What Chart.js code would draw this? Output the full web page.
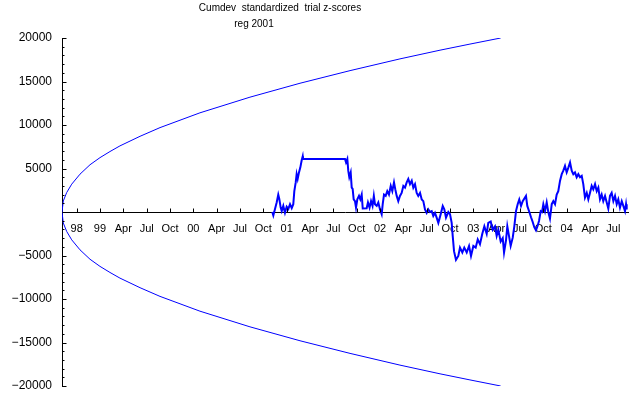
<!DOCTYPE html>
<html>
<head>
<meta charset="utf-8">
<title>Cumdev standardized trial z-scores</title>
<script src="https://cdn.jsdelivr.net/npm/chart.js@4.4.1/dist/chart.umd.min.js"></script>
<style>
  html, body { margin: 0; padding: 0; background: #fff; }
  #wrap { width: 640px; height: 395px; }
</style>
</head>
<body>
<div id="wrap"><canvas id="chart" width="640" height="395"></canvas></div>
<script>
// titles
const titleText = 'Cumdev  standardized  trial z-scores'
const subTitleText = 'reg 2001'

// x axis ticks (decimal years) and their labels
const tickYears = [1998.75, 1999.0, 1999.25, 1999.5, 1999.75, 2000.0, 2000.25, 2000.5, 2000.75,
    2001.0, 2001.25, 2001.5, 2001.75, 2002.0, 2002.25, 2002.5, 2002.75,
    2003.0, 2003.25, 2003.5, 2003.75, 2004.0, 2004.25, 2004.5]
const tickLabels = ['98', '99', 'Apr', 'Jul', 'Oct', '00', 'Apr', 'Jul', 'Oct',
    '01', 'Apr', 'Jul', 'Oct', '02', 'Apr', 'Jul', 'Oct',
    '03', 'Apr', 'Jul', 'Oct', '04', 'Apr', 'Jul']

// envelope
const envX = [1998.593, 1998.607, 1998.643, 1998.697, 1998.786, 1998.893, 1999.000, 1999.107, 1999.214,
    1999.429, 1999.643, 2000.071, 2000.607, 2001.143, 2001.679, 2002.214, 2002.643, 2002.964, 2003.293]
const envUpper = [0, 1270, 2230, 3200, 4350, 5430, 6250, 6950, 7600,
    8700, 9700, 11400, 13200, 14800, 16250, 17600, 18600, 19300, 20000]
const envLower = [0, -1270, -2230, -3200, -4350, -5430, -6250, -6950, -7600,
    -8700, -9700, -11400, -13200, -14800, -16250, -17600, -18600, -19300, -20000]

// cumulative deviation trace
const cumX = [
    2000.846, 2000.857, 2000.875, 2000.893, 2000.910, 2000.921, 2000.936, 2000.947, 2000.964, 2000.982,
    2001.000, 2001.018, 2001.036, 2001.054, 2001.071, 2001.082, 2001.097, 2001.107, 2001.118, 2001.132,
    2001.146, 2001.161, 2001.172, 2001.175, 2001.625, 2001.636, 2001.650, 2001.660, 2001.671, 2001.686,
    2001.697, 2001.707, 2001.718, 2001.732, 2001.743, 2001.757, 2001.775, 2001.789, 2001.804, 2001.815,
    2001.857, 2001.871, 2001.888, 2001.904, 2001.920, 2001.934, 2001.946, 2001.965, 2001.982, 2002.000,
    2002.018, 2002.029, 2002.043, 2002.061, 2002.078, 2002.096, 2002.115, 2002.132, 2002.150, 2002.164,
    2002.179, 2002.196, 2002.214, 2002.232, 2002.250, 2002.268, 2002.286, 2002.303, 2002.321, 2002.340,
    2002.357, 2002.375, 2002.393, 2002.410, 2002.429, 2002.447, 2002.464, 2002.482, 2002.500, 2002.517,
    2002.536, 2002.554, 2002.571, 2002.589, 2002.607, 2002.625, 2002.650, 2002.672, 2002.689, 2002.707,
    2002.732, 2002.750, 2002.768, 2002.779, 2002.793, 2002.814, 2002.839, 2002.857, 2002.882, 2002.903,
    2002.929, 2002.954, 2002.975, 2003.000, 2003.025, 2003.047, 2003.071, 2003.096, 2003.118, 2003.143,
    2003.160, 2003.186, 2003.207, 2003.232, 2003.250, 2003.268, 2003.293, 2003.315, 2003.329, 2003.350,
    2003.364, 2003.382, 2003.400, 2003.422, 2003.439, 2003.457, 2003.475, 2003.492, 2003.511, 2003.529,
    2003.564, 2003.578, 2003.600, 2003.618, 2003.636, 2003.653, 2003.671, 2003.690, 2003.704, 2003.722,
    2003.736, 2003.750, 2003.768, 2003.786, 2003.803, 2003.821, 2003.840, 2003.857, 2003.875, 2003.893,
    2003.910, 2003.929, 2003.947, 2003.964, 2003.982, 2004.000, 2004.018, 2004.036, 2004.054, 2004.071,
    2004.089, 2004.107, 2004.125, 2004.143, 2004.161, 2004.178, 2004.196, 2004.215, 2004.232, 2004.250,
    2004.268, 2004.285, 2004.304, 2004.322, 2004.339, 2004.357, 2004.375, 2004.392, 2004.411, 2004.429,
    2004.446, 2004.464, 2004.482, 2004.500, 2004.518, 2004.536, 2004.553, 2004.571, 2004.590, 2004.607,
    2004.625, 2004.636, 2004.643]
const cumY = [
    0, -400, 350, 1100, 2000, 1500, 500, 100, 700, -100,
    600, 350, 900, 450, 900, 2400, 3400, 4350, 3800, 4550,
    5100, 5950, 6400, 6100, 6100, 5700, 6100, 4750, 4000, 4550,
    2800, 2650, 1450, 1250, 500, 1450, 1850, 1450, 2000, 400,
    430, 1100, 500, 1250, 700, 1850, 900, 700, 1100, 300,
    -250, 900, 2000, 1850, 2400, 2000, 3000, 2400, 3400, 2600,
    1850, 1250, 1850, 2200, 3000, 2800, 3400, 3800, 3200, 3600,
    2800, 3200, 2200, 1850, 2200, 1450, 1250, 300, -100, 300,
    0, 100, -450, -100, -650, -1250, -250, 700, 300, -650,
    0, -250, -1250, -2750, -4500, -5500, -5050, -4100, -4650, -4100,
    -4650, -3900, -5050, -3900, -4100, -3150, -3700, -2500, -1650, -2500,
    -1250, -1100, -2050, -1650, -2750, -2050, -3400, -3000, -4650, -3250,
    -1650, -2750, -3900, -2950, -1650, 100, 900, 1450, 700, 1250,
    1850, 700, 0, -600, -1150, -1750, -2100, -1550, -1000, 100,
    0, 900, 100, 1100, 0, -750, 900, 1250, 900, 2000,
    2400, 3600, 4350, 4750, 5300, 4550, 5100, 5700, 4750, 4350,
    4550, 4000, 4350, 4000, 4150, 3200, 1650, 2200, 1450, 2200,
    3000, 2600, 3200, 2400, 2800, 1450, 2000, 1250, 1850, 1100,
    400, 1850, 2200, 1250, 1850, 900, 1450, 500, 1250, 700,
    100, 900, 300]

const yMinorStep = 1000
const yMajorStep = 5000
const blue = '#0000ff'
const fontFamily = "'Liberation Sans', Arial, sans-serif"

function toPoints(xs, ys) {
    return xs.map((x, i) => ({ x: x, y: ys[i] }))
}

// titles + inward tick marks, drawn on top of library scales
const extrasPlugin = {
    id: 'extras',
    afterDraw(chart) {
        const ctx = chart.ctx
        const xs = chart.scales.x
        const ys = chart.scales.y
        ctx.save()
        ctx.fillStyle = '#000'
        ctx.font = '10px ' + fontFamily
        ctx.textAlign = 'center'
        ctx.textBaseline = 'middle'
        ctx.fillText(titleText, 280, 8)
        ctx.fillText(subTitleText, 254, 24)

        ctx.strokeStyle = '#000'
        ctx.lineWidth = 1
        const axisX = Math.round(xs.left) + 0.5
        for (let v = ys.min; v <= ys.max; v += yMinorStep) {
            const py = Math.round(ys.getPixelForValue(v)) + 0.5
            const len = v % yMajorStep === 0 ? 4 : 2
            ctx.beginPath()
            ctx.moveTo(axisX, py)
            ctx.lineTo(axisX + len, py)
            ctx.stroke()
        }
        const axisY = Math.round(ys.getPixelForValue(0)) + 0.5
        tickYears.forEach(t => {
            const px = Math.round(xs.getPixelForValue(t)) + 0.5
            ctx.beginPath()
            ctx.moveTo(px, axisY)
            ctx.lineTo(px, axisY - 4)
            ctx.stroke()
        })
        ctx.restore()
    }
}

new Chart(document.getElementById('chart'), {
    type: 'line',
    data: {
        datasets: [
            { data: toPoints(envX, envUpper), borderColor: blue, borderWidth: 1 },
            { data: toPoints(envX, envLower), borderColor: blue, borderWidth: 1 },
            { data: toPoints(cumX, cumY), borderColor: blue, borderWidth: 2 }
        ]
    },
    options: {
        responsive: false,
        animation: false,
        parsing: true,
        elements: { point: { radius: 0 }, line: { tension: 0, fill: false } },
        layout: { padding: { left: 0, top: 38, right: 12, bottom: 9 } },
        plugins: { legend: { display: false }, tooltip: { enabled: false } },
        scales: {
            x: {
                type: 'linear',
                position: { y: 0 },
                min: 1998.593,
                max: 2004.657,
                afterBuildTicks: (scale) => {
                    scale.ticks = tickYears.map(v => ({ value: v }))
                },
                grid: { display: false, drawTicks: false },
                border: { display: true, color: '#000', width: 1 },
                ticks: {
                    autoSkip: false,
                    maxRotation: 0,
                    padding: 10,
                    color: '#000',
                    font: { size: 11, family: fontFamily },
                    callback: (value, index) => tickLabels[index]
                }
            },
            y: {
                type: 'linear',
                min: -20000,
                max: 20000,
                afterFit: (scale) => { scale.width = 62 },
                // tick marks are drawn by the plugin; tickLength only spaces the labels
                grid: { display: false, drawTicks: true, tickLength: 10 },
                border: { display: true, color: '#000', width: 1 },
                ticks: {
                    stepSize: yMajorStep,
                    padding: 0,
                    color: '#000',
                    font: { size: 12, family: fontFamily },
                    callback: (v) => v === 0 ? '' : (v < 0 ? '\u2212' + Math.abs(v) : String(v))
                }
            }
        }
    },
    plugins: [extrasPlugin]
})
</script>
</body>
</html>
